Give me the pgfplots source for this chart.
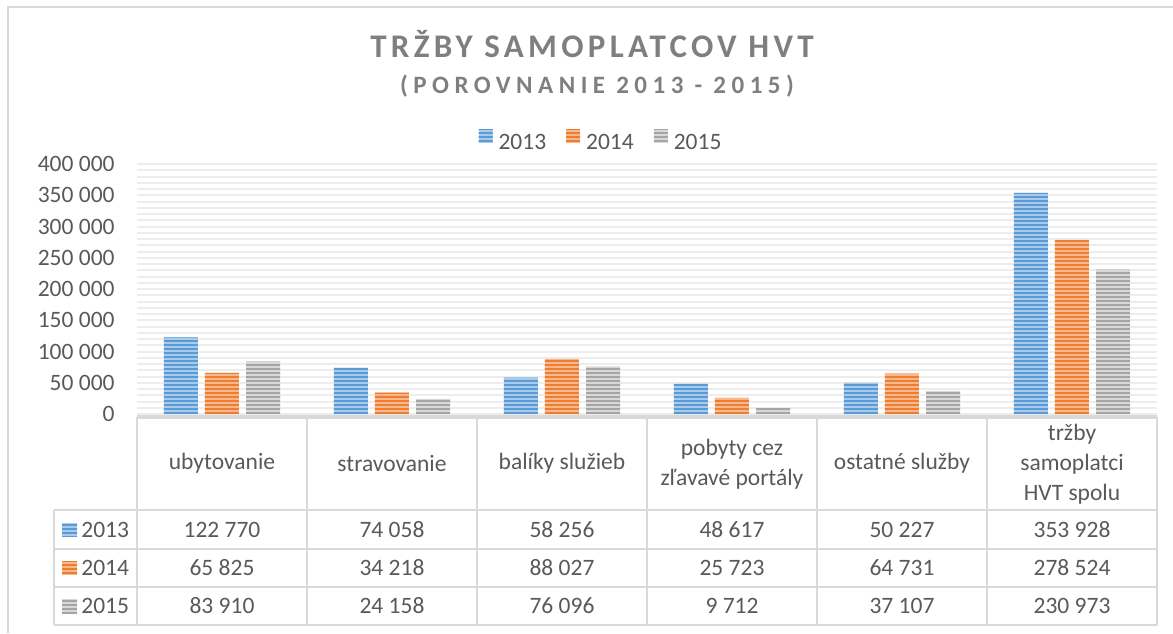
\documentclass[border=0pt]{standalone}
\usepackage{fontspec}
\setmainfont{Carlito}
\usepackage{pgfplots}
\pgfplotsset{compat=1.18}
\usetikzlibrary{patterns.meta}
\definecolor{cA}{HTML}{5B9BD5}
\definecolor{cAl}{HTML}{A9CBEB}
\definecolor{cB}{HTML}{ED7D31}
\definecolor{cBl}{HTML}{F7B88E}
\definecolor{cC}{HTML}{A5A5A5}
\definecolor{cCl}{HTML}{D8D8D8}
\definecolor{txt}{HTML}{595959}
\definecolor{ttl}{HTML}{7F7F7F}
\definecolor{grd}{HTML}{EDEDED}
\definecolor{tbl}{HTML}{D9D9D9}
\newcommand\f{\fontsize{11.75}{15}\selectfont}
\tikzset{
  sA/.style={draw=none,fill=cAl,postaction={pattern={Lines[angle=0,distance=2pt,line width=1pt]},pattern color=cA}},
  sB/.style={draw=none,fill=cBl,postaction={pattern={Lines[angle=0,distance=2pt,line width=1pt]},pattern color=cB}},
  sC/.style={draw=none,fill=cCl,postaction={pattern={Lines[angle=0,distance=2pt,line width=1pt]},pattern color=cC}},
}
\begin{document}
\begin{tikzpicture}
\useasboundingbox (0,0) rectangle (586.5pt,-316.5pt);
\begin{axis}[
  at={(68.5pt,-207pt)}, anchor=south west,
  scale only axis, width=510pt, height=125pt,
  xmin=-0.5, xmax=5.5, ymin=0, ymax=400000,
  ybar, bar width=0.2,
  xtick=\empty,
  scaled y ticks=false,
  ytick={0,50000,...,400000},
  yticklabels={0,50 000,100 000,150 000,200 000,250 000,300 000,350 000,400 000},
  minor y tick num=4,
  ymajorgrids, yminorgrids,
  major grid style={draw=grd, line width=1pt},
  minor grid style={draw=grd, line width=1pt},
  axis line style={draw=none},
  major tick length=0pt, minor tick length=0pt,
  yticklabel style={font=\f, text=txt, anchor=east, inner sep=0pt, xshift=-11pt},
  legend image code/.code={\draw[#1,draw=none] (0pt,0pt) rectangle (7pt,7pt);},
  legend style={at={(0.4539,1.092)}, anchor=center, draw=none, fill=none,
    inner sep=0pt, font=\f, text=txt, legend columns=-1,
    nodes={inner sep=0pt},
    /tikz/every odd column/.append style={column sep=3pt},
    /tikz/every even column/.append style={column sep=10pt}},
]
\addplot[sA, bar shift=-0.2412] coordinates {(0,122770) (1,74058) (2,58256) (3,48617) (4,50227) (5,353928)};
\addplot[sB, bar shift=0] coordinates {(0,65825) (1,34218) (2,88027) (3,25723) (4,64731) (5,278524)};
\addplot[sC, bar shift=0.2412] coordinates {(0,83910) (1,24158) (2,76096) (3,9712) (4,37107) (5,230973)};
\legend{2013,2014,2015}
\end{axis}
\begin{scope}[x=0.5pt,y=-0.5pt]
% outer border
\draw[tbl, line width=1pt] (8,633) -- (8,7) -- (1173,7);
% title
\node[anchor=base, text=ttl, inner sep=0pt] at (592,57)
  {\fontsize{16.5}{19}\selectfont\bfseries\addfontfeature{LetterSpace=13}TRŽBY SAMOPLATCOV HVT};
\node[anchor=base, text=ttl, inner sep=0pt] at (597,93)
  {\fontsize{12.5}{15}\selectfont\bfseries\addfontfeature{LetterSpace=22}(POROVNANIE 2013 - 2015)};
% table lines
\draw[tbl, line width=2pt] (137,417) -- (1157,417);
\foreach \yy in {510,549,587,625} \draw[tbl, line width=1pt] (54,\yy) -- (1157,\yy);
\foreach \k in {0,...,6} \draw[tbl, line width=1pt] ({137+170*\k},417) -- ({137+170*\k},625);
\draw[tbl, line width=1pt] (54,510) -- (54,625);
% category labels
\begin{scope}[every node/.style={font=\f, text=txt, align=center, inner sep=0pt}]
\node at (222,463) {ubytovanie};
\node at (392,463) {stravovanie};
\node at (562,463) {balíky služieb};
\node at (732,464) {pobyty cez\\zľavavé portály};
\node at (902,463) {ostatné služby};
\node at (1072,464) {tržby\\samoplatci\\HVT spolu};
% row headers
\fill[sA] (62,522.5) rectangle (77,536.5);
\fill[sB] (62,561) rectangle (77,575);
\fill[sC] (62,599) rectangle (77,613);
\node[anchor=west] at (81,529.5) {2013};
\node[anchor=west] at (81,568) {2014};
\node[anchor=west] at (81,606) {2015};
% values
\node at (222,529.5) {122 770}; \node at (392,529.5) {74 058}; \node at (562,529.5) {58 256};
\node at (732,529.5) {48 617}; \node at (902,529.5) {50 227}; \node at (1072,529.5) {353 928};
\node at (222,568) {65 825}; \node at (392,568) {34 218}; \node at (562,568) {88 027};
\node at (732,568) {25 723}; \node at (902,568) {64 731}; \node at (1072,568) {278 524};
\node at (222,606) {83 910}; \node at (392,606) {24 158}; \node at (562,606) {76 096};
\node at (732,606) {9 712}; \node at (902,606) {37 107}; \node at (1072,606) {230 973};
\end{scope}
\end{scope}
\end{tikzpicture}
\end{document}
